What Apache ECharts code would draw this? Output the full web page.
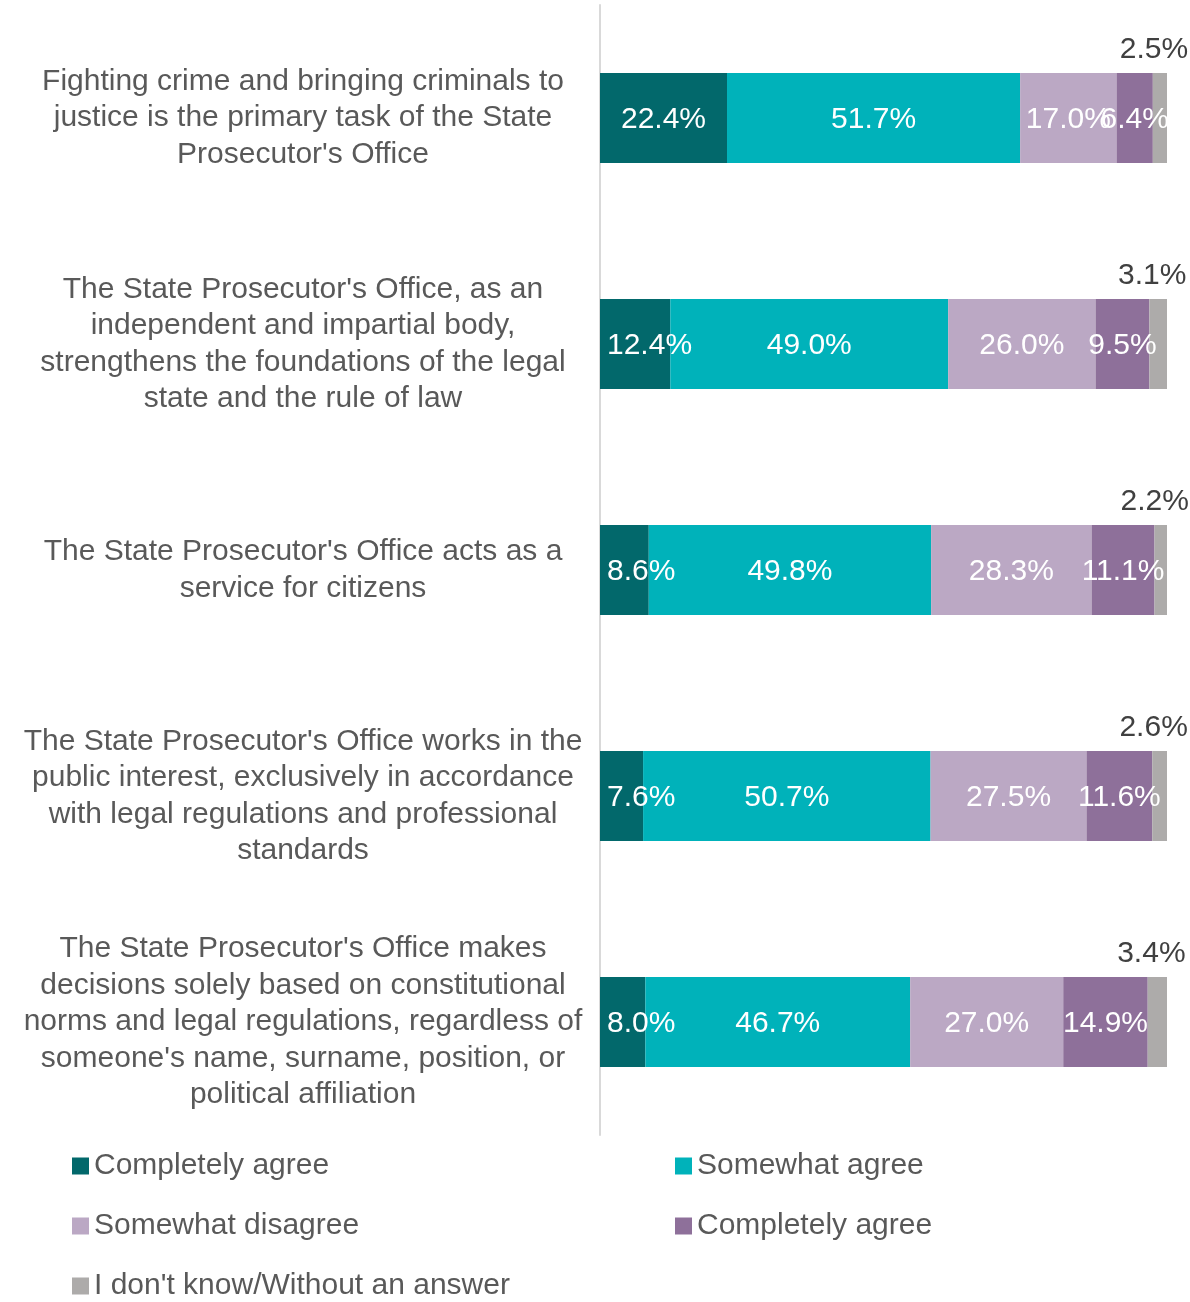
<!DOCTYPE html>
<html>
<head>
<meta charset="utf-8">
<script src="https://cdn.jsdelivr.net/npm/echarts@6/dist/echarts.min.js"></script>
<style>
  html, body { margin: 0; padding: 0; background: #fff; }
  #chart { width: 1190px; height: 1302px; }
</style>
</head>
<body>
<div id="chart"></div>
<script>
const categories = [
  'Fighting crime and bringing criminals to\njustice is the primary task of the State\nProsecutor\'s Office',
  'The State Prosecutor\'s Office, as an\nindependent and impartial body,\nstrengthens the foundations of the legal\nstate and the rule of law',
  'The State Prosecutor\'s Office acts as a\nservice for citizens',
  'The State Prosecutor\'s Office works in the\npublic interest, exclusively in accordance\nwith legal regulations and professional\nstandards',
  'The State Prosecutor\'s Office makes\ndecisions solely based on constitutional\nnorms and legal regulations, regardless of\nsomeone\'s name, surname, position, or\npolitical affiliation'
]

// the 4th name repeats the original legend text; trailing space keeps it a separate series
const seriesNames = ['Completely agree', 'Somewhat agree', 'Somewhat disagree', 'Completely agree ', 'I don\'t know/Without an answer']

const completelyAgree = [22.4, 12.4, 8.6, 7.6, 8.0]
const somewhatAgree = [51.7, 49.0, 49.8, 50.7, 46.7]
const somewhatDisagree = [17.0, 26.0, 28.3, 27.5, 27.0]
const completelyDisagree = [6.4, 9.5, 11.1, 11.6, 14.9]
const dontKnow = [2.5, 3.1, 2.2, 2.6, 3.4]

const colors = ['#02686b', '#00b2ba', '#bba8c4', '#8e709a', '#adabaa']
const fontFamily = '"Liberation Sans Narrow", "Liberation Sans", sans-serif'

let chart = echarts.init(document.getElementById('chart'))

const values = [completelyAgree, somewhatAgree, somewhatDisagree, completelyDisagree, dontKnow]

let series = values.map((data, i) => {
  let last = i === values.length - 1
  let s = {
    name: seriesNames[i],
    type: 'bar',
    stack: 'total',
    barWidth: 90,
    data: data,
    itemStyle: { color: colors[i] },
    label: {
      show: true,
      position: last ? 'top' : 'inside',
      distance: 8,
      offset: last ? [-6, 0] : [0, 2],
      color: last ? '#404040' : '#ffffff',
      fontSize: 30,
      fontFamily: fontFamily,
      formatter: p => p.value.toFixed(1) + '%'
    }
  }
  if (i === 0) {
    // keep labels of narrow first segments off the axis line
    s.labelLayout = p => ({
      x: Math.max(p.labelRect.x, 607),
      y: p.labelRect.y,
      align: 'left',
      verticalAlign: 'top'
    })
  }
  return s
})

let legendText = { color: '#595959', fontSize: 30, fontFamily: fontFamily }

let options = {
  animation: false,
  grid: { left: 600, right: 23, top: 5, bottom: 167 },
  xAxis: {
    type: 'value',
    min: 0,
    max: 100,
    show: false
  },
  yAxis: {
    type: 'category',
    inverse: true,
    data: categories,
    axisLine: { show: true, lineStyle: { color: '#d9d9d9', width: 2 } },
    axisTick: { show: false },
    axisLabel: {
      align: 'center',
      margin: 297,
      color: '#595959',
      fontSize: 30,
      lineHeight: 36.5,
      fontFamily: fontFamily
    }
  },
  legend: [
    {
      orient: 'vertical',
      left: 72,
      top: 1151,
      padding: 0,
      itemWidth: 17,
      itemHeight: 17,
      itemGap: 30,
      icon: 'rect',
      textStyle: legendText,
      data: [seriesNames[0], seriesNames[2], seriesNames[4]]
    },
    {
      orient: 'vertical',
      left: 675,
      top: 1151,
      padding: 0,
      itemWidth: 17,
      itemHeight: 17,
      itemGap: 30,
      icon: 'rect',
      textStyle: legendText,
      data: [seriesNames[1], seriesNames[3]]
    }
  ],
  series: series
}

chart.setOption(options, true)
</script>
</body>
</html>
